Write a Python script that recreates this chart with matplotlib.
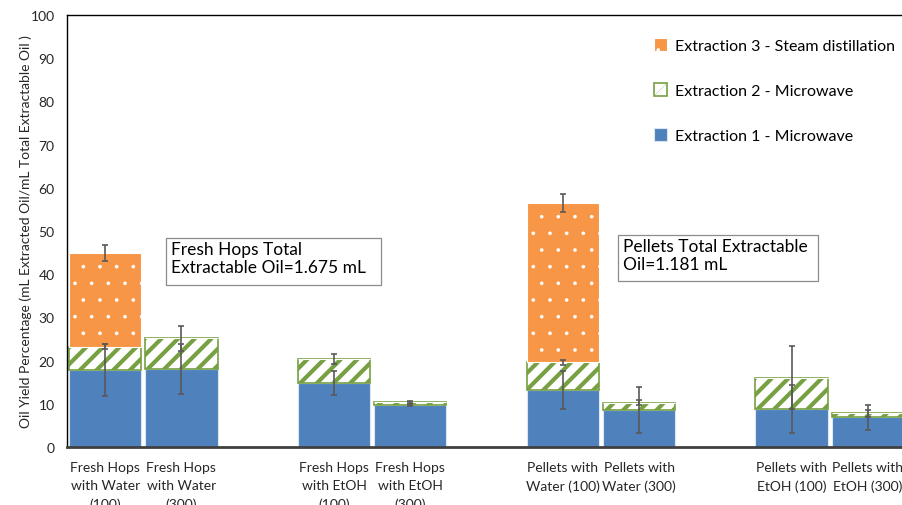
import matplotlib
matplotlib.use('Agg')
import matplotlib.pyplot as plt
from matplotlib.patches import Rectangle
import numpy as np

plt.rcParams['font.family'] = ['Lato', 'DejaVu Sans']

# Data
labels = ['Fresh Hops\nwith Water\n(100)', 'Fresh Hops\nwith Water\n(300)',
          'Fresh Hops\nwith EtOH\n(100)', 'Fresh Hops\nwith EtOH\n(300)',
          'Pellets with\nWater (100)', 'Pellets with\nWater (300)',
          'Pellets with\nEtOH (100)', 'Pellets with\nEtOH (300)']
ext1 = [17.8, 18.0, 14.8, 9.7, 13.2, 8.6, 8.8, 6.9]
ext2 = [5.4, 7.2, 5.6, 0.65, 6.4, 1.7, 7.2, 0.9]
ext3 = [21.7, 0, 0, 0, 36.9, 0, 0, 0]
err1 = [6.0, 5.8, 2.7, 0.2, 4.4, 5.3, 5.6, 2.9]
err2 = [0.6, 2.9, 1.1, 0.2, 0.6, 0.5, 7.3, 0.8]
err3 = [1.9, 0, 0, 0, 2.0, 0, 0, 0]

blue = '#4F81BD'
green = '#77A043'
orange = '#F79646'

W, H = 903, 506

# two bars per group, one empty slot between groups
x = np.array([i + i // 2 for i in range(len(labels))], dtype=float)
ext1 = np.array(ext1)
ext2 = np.array(ext2)
ext3 = np.array(ext3)
top2 = ext1 + ext2
top3 = top2 + ext3

fig = plt.figure(figsize=(W / 100, H / 100), dpi=100)
ax = fig.add_axes([67 / W, 1 - 448 / H, 839 / W, 432 / H])

w = 0.95
ax.bar(x, ext1, w, color=blue, edgecolor='#DCE6F2', linewidth=0.8,
       label='Extraction 1 - Microwave', zorder=2)
plt.rcParams['hatch.linewidth'] = 3.0
ax.bar(x, ext2, w, bottom=ext1, color='white', edgecolor=green, hatch='//',
       linewidth=1.2, label='Extraction 2 - Microwave', zorder=2)
plt.rcParams['hatch.linewidth'] = 0.2
ax.bar(x, ext3, w, bottom=top2, color=orange, edgecolor='white', hatch='.',
       linewidth=0.8, label='Extraction 3 - Steam distillation', zorder=2)

ekw = dict(fmt='none', ecolor='#595959', elinewidth=1.2, capsize=2.5, capthick=1.2, zorder=3)
ax.errorbar(x, ext1, yerr=err1, **ekw)
ax.errorbar(x, top2, yerr=err2, **ekw)
m = ext3 > 0
ax.errorbar(x[m], top3[m], yerr=np.array(err3)[m], **ekw)

ax.set_xlim(-0.5, 10.5)
ax.set_ylim(0, 100)
ax.set_yticks(range(0, 101, 10))
ax.set_xticks(x)
ax.set_xticklabels(labels, fontsize=10, linespacing=1.6, color='#262626', va='top')
ax.tick_params(axis='both', length=0, labelsize=10, colors='#262626')
ax.tick_params(axis='x', pad=10)
ax.tick_params(axis='y', pad=9)
ax.set_ylabel('Oil Yield Percentage (mL Extracted Oil/mL Total Extractable Oil )',
              fontsize=10, color='#262626', labelpad=-1)
for s in ['top', 'left', 'right']:
    ax.spines[s].set_linewidth(1.0)
    ax.spines[s].set_color('black')
ax.spines['bottom'].set_linewidth(2.0)
ax.spines['bottom'].set_color('#404040')

h, l = ax.get_legend_handles_labels()
ax.legend(h[::-1], l[::-1], loc='upper left', bbox_to_anchor=(640 / W, 1 - 25 / H),
          bbox_transform=fig.transFigure, frameon=False, fontsize=11.5,
          handlelength=0.8, handleheight=0.8, handletextpad=0.5, labelspacing=1.9)

# annotation boxes
for (x0, y0, x1, y1) in [(166, 239, 381, 286), (618, 236, 818, 282)]:
    fig.patches.append(Rectangle((x0 / W, 1 - y1 / H), (x1 - x0) / W, (y1 - y0) / H,
                                 transform=fig.transFigure, facecolor='white',
                                 edgecolor='#8C8C8C', linewidth=0.9, zorder=5))
fig.text(171 / W, 1 - 242 / H, 'Fresh Hops Total\nExtractable Oil=1.675 mL',
         fontsize=12.5, va='top', ha='left', linespacing=1.15, color='black', zorder=6)
fig.text(623 / W, 1 - 239 / H, 'Pellets Total Extractable\nOil=1.181 mL',
         fontsize=12.5, va='top', ha='left', linespacing=1.15, color='black', zorder=6)

fig.savefig('out.png', dpi=100)
